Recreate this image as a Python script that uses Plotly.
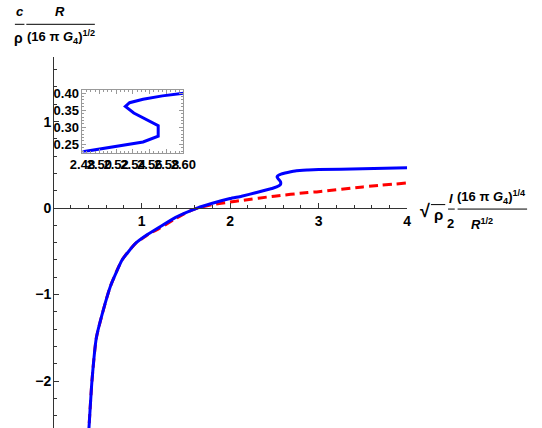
import plotly.graph_objects as go

# Blue (solid) curve
blue_x = [0.400, 0.44, 0.49, 0.59, 0.65, 0.78, 0.93, 1.05, 1.20, 1.38, 1.63, 1.80, 2.00, 2.13, 2.30, 2.45,
          2.482, 2.552, 2.570, 2.570, 2.541, 2.531, 2.536, 2.552, 2.575, 2.600, 2.65, 2.75, 2.88, 3.00, 3.50, 4.00]
blue_y = [-2.65, -2.00, -1.50, -1.10, -0.90, -0.60, -0.41, -0.318, -0.222, -0.11, 0.000, 0.055, 0.110, 0.137, 0.180, 0.221,
          0.229, 0.257, 0.274, 0.305, 0.342, 0.361, 0.372, 0.382, 0.392, 0.400, 0.412, 0.432, 0.440, 0.445, 0.455, 0.465]

# Red (dashed) curve
red_x = [0.400, 0.44, 0.49, 0.59, 0.65, 0.78, 0.93, 1.05, 1.20, 1.38, 1.50, 1.63, 1.80, 2.00, 2.13, 2.50, 2.88, 3.00, 3.50, 4.00]
red_y = [-2.65, -2.00, -1.50, -1.10, -0.90, -0.60, -0.412, -0.322, -0.235, -0.125, -0.055, 0.000, 0.040, 0.070, 0.088, 0.138, 0.180, 0.190, 0.245, 0.290]

main_xticks = [1, 2, 3, 4]
main_yticks = [-2, -1, 0, 1]
inset_xticks = [2.48, 2.50, 2.52, 2.54, 2.56, 2.58, 2.60]
inset_yticks = [0.25, 0.30, 0.35, 0.40]

W, H = 542, 428
def px(x):
    return x / W
def py(y):
    return 1 - y / H

FONT = "Liberation Sans, Arial, sans-serif"
AX = "#333333"

fig = go.Figure()
fig.add_trace(go.Scatter(x=red_x, y=red_y, mode="lines", xaxis="x", yaxis="y",
                         line=dict(color="#FF0000", width=3, dash="9px,5px", shape="spline", smoothing=0.6),
                         hoverinfo="skip", showlegend=False))
fig.add_trace(go.Scatter(x=blue_x, y=blue_y, mode="lines", xaxis="x", yaxis="y",
                         line=dict(color="#0000FF", width=3, shape="spline", smoothing=0.4),
                         hoverinfo="skip", showlegend=False))
fig.add_trace(go.Scatter(x=blue_x, y=blue_y, mode="lines", xaxis="x2", yaxis="y2",
                         line=dict(color="#0000FF", width=3),
                         hoverinfo="skip", showlegend=False))

tickfont = dict(family=FONT, size=14, color="black", weight="bold")
insfont = dict(family=FONT, size=13, color="black", weight="bold")

fig.update_layout(
    width=W, height=H, margin=dict(l=0, r=0, t=0, b=0),
    paper_bgcolor="white", plot_bgcolor="rgba(0,0,0,0)",
    xaxis=dict(domain=[px(42), px(414)], range=[0, 4], anchor="free", position=py(206),
               showline=True, linecolor=AX, linewidth=1, showgrid=False, zeroline=False,
               ticks="inside", ticklen=5, tickcolor=AX, tickmode="array", tickvals=main_xticks,
               minor=dict(tickmode="array", tickvals=[i * 0.2 for i in range(1, 21)], ticks="inside",
                          ticklen=3, tickcolor=AX, showgrid=False),
               tickfont=tickfont, tickangle=0),
    yaxis=dict(domain=[0, py(53)], range=[-2.543, 1.7526], anchor="free", position=px(42),
               showline=True, linecolor=AX, linewidth=1, showgrid=False, zeroline=False,
               ticks="inside", ticklen=5, tickcolor=AX, tickmode="array", tickvals=main_yticks,
               minor=dict(tickmode="array", tickvals=[round(-2.4 + i * 0.2, 2) for i in range(21)],
                          ticks="inside", ticklen=3, tickcolor=AX, showgrid=False),
               tickfont=tickfont, ticklabelstandoff=-1),
    xaxis2=dict(domain=[px(73), px(179)], range=[2.48, 2.60], anchor="y2",
                showline=True, mirror="ticks", linecolor="#999999", linewidth=1, showgrid=False, zeroline=False,
                ticks="inside", ticklen=4, tickcolor="#999999", tickmode="array", tickvals=inset_xticks,
                ticktext=["%.2f" % v for v in inset_xticks],
                minor=dict(tickmode="array", tickvals=[round(2.48 + i * 0.005, 3) for i in range(25)],
                           ticks="inside", ticklen=2, tickcolor="#999999", showgrid=False),
                tickfont=insfont, tickangle=0),
    yaxis2=dict(domain=[py(150), py(87)], range=[0.226, 0.4087], anchor="x2",
                showline=True, mirror="ticks", linecolor="#999999", linewidth=1, showgrid=False, zeroline=False,
                ticks="inside", ticklen=4, tickcolor="#999999", tickmode="array", tickvals=inset_yticks,
                ticktext=["%.2f" % v for v in inset_yticks],
                minor=dict(tickmode="array", tickvals=[round(0.23 + i * 0.01, 2) for i in range(18)],
                           ticks="inside", ticklen=2, tickcolor="#999999", showgrid=False),
                tickfont=insfont),
)

lab = dict(family=FONT, size=12, color="black", weight="bold")
def ann(text, x, y, size=12):
    f = dict(lab); f["size"] = size
    fig.add_annotation(text=text, x=px(x), y=py(y), xref="paper", yref="paper",
                       showarrow=False, xanchor="center", yanchor="middle", font=f)
def bar(x0, x1, y, w=1):
    fig.add_shape(type="line", xref="paper", yref="paper", x0=px(x0), x1=px(x1), y0=py(y), y1=py(y),
                  line=dict(color="black", width=w))

# top-left y label
ann("<i>c</i>", 7, 8, 13)
bar(2, 12, 20.5)
ann("ρ", 6, 34, 14)
ann("<i>R</i>", 49, 8, 13)
bar(14, 86, 20.5)
ann("(16 π <i>G</i><sub>4</sub>)<sup>1/2</sup>", 50, 33, 13)

# right x label
ann("√", 433, 209, 18)
bar(439, 454, 202.5)
ann("ρ", 447, 212, 15)
ann("<i>l</i>", 460, 196, 13)
bar(457, 464, 207)
ann("2", 460, 222, 13)
ann("(16 π <i>G</i><sub>4</sub>)<sup>1/4</sup>", 503, 195, 13)
bar(467, 540, 207)
ann("<i>R</i><sup>1/2</sup>", 493, 222, 13)

fig.write_html("out.html")
